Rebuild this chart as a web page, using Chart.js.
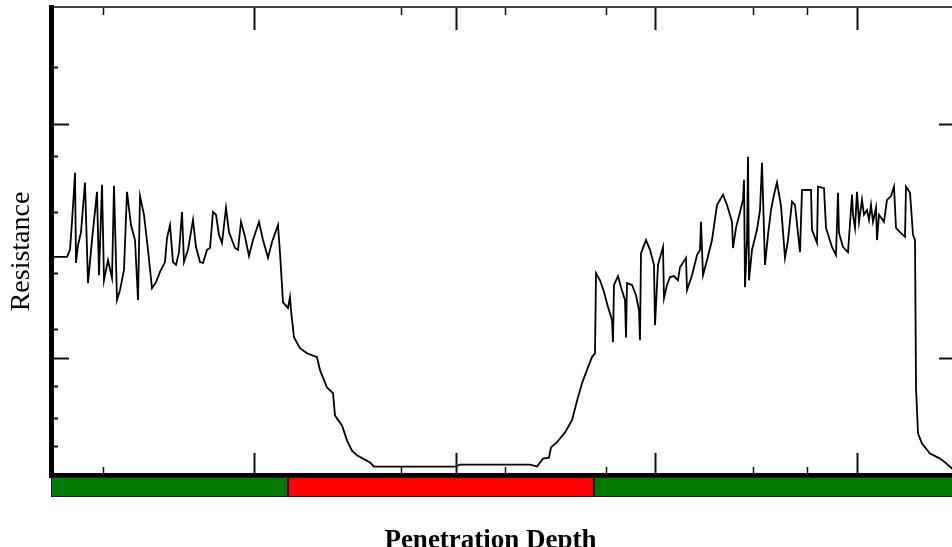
<!DOCTYPE html>
<html>
<head>
<meta charset="utf-8">
<title>Resistance vs Penetration Depth</title>
<script src="https://cdn.jsdelivr.net/npm/chart.js@4.4.0/dist/chart.umd.min.js"></script>
<style>
    html, body { margin: 0; padding: 0; background: #fff; overflow: hidden; }
    canvas { display: block; }
</style>
</head>
<body>
<canvas id="penetrationChart" width="960" height="557"></canvas>
<script>

//---------------------------------
//Start data
const depth = [
    2, 16, 19, 21, 23, 24, 25, 27, 30, 34, 37, 41, 46, 48, 51, 53, 57, 61, 63, 66,
    69, 73, 76, 80, 84, 87, 89, 93, 97, 101, 105, 109, 114, 116, 119, 122, 125, 128, 131, 133,
    137, 142, 145, 149, 152, 156, 159, 162, 165, 168, 171, 175, 178, 184, 187, 190, 194, 198, 202, 208,
    212, 217, 221, 227, 229, 232, 237, 239, 240, 243, 249, 256, 266, 269, 276, 282, 284, 291, 296, 301,
    306, 312, 319, 323, 404, 409, 479, 486, 492, 498, 500, 506, 514, 521, 527, 531, 537, 541, 544, 545,
    549, 553, 557, 561, 562, 563, 567, 570, 574, 575, 576, 581, 585, 588, 589, 590, 595, 599, 603, 604,
    607, 612, 613, 616, 619, 623, 627, 629, 635, 636, 641, 646, 649, 650, 652, 656, 661, 666, 672, 676,
    681, 682, 685, 689, 692, 693, 694, 696, 697, 698, 701, 706, 709, 711, 714, 717, 720, 723, 726, 730,
    734, 737, 741, 744, 749, 751, 760, 761, 766, 767, 773, 775, 781, 785, 787, 788, 792, 797, 801, 802,
    804, 806, 808, 811, 813, 816, 818, 820, 822, 825, 826, 828, 833, 836, 840, 843, 845, 849, 854, 855,
    859, 862, 864, 865, 867, 871, 879, 889, 894, 901, 906
];
const resistance = [
    46.6, 46.6, 48.1, 54.1, 60.9, 64.6, 45.3, 49.1, 51.9, 62.5, 41.0, 50.2, 60.5, 42.7, 62.0, 41.6, 45.9, 42.1, 61.8, 37.4,
    39.5, 43.8, 60.5, 53.4, 50.2, 37.4, 59.6, 55.6, 48.1, 39.9, 41.2, 43.4, 45.5, 50.6, 53.4, 45.5, 44.9, 47.6, 56.2, 45.5,
    48.1, 54.5, 48.7, 45.5, 45.3, 48.1, 48.5, 56.2, 55.6, 51.3, 49.6, 57.1, 51.9, 48.5, 48.1, 54.1, 50.9, 46.8, 50.2, 54.1,
    50.2, 46.4, 49.8, 53.4, 47.4, 36.9, 35.7, 38.0, 35.2, 29.4, 27.1, 26.0, 25.2, 22.4, 18.7, 17.5, 12.7, 10.6, 7.4, 5.2,
    4.2, 3.5, 2.7, 1.8, 1.8, 2.2, 2.2, 1.8, 3.5, 3.7, 5.9, 7.0, 9.1, 11.7, 16.6, 19.6, 23.0, 25.2, 26.0, 43.1,
    41.6, 39.1, 35.9, 33.1, 28.4, 40.6, 42.5, 40.1, 37.4, 29.4, 41.0, 40.6, 38.4, 35.2, 28.8, 47.4, 50.2, 48.1, 44.9, 32.0,
    44.9, 48.7, 37.8, 40.6, 42.3, 42.5, 41.6, 44.4, 46.4, 39.5, 42.7, 47.0, 48.1, 54.1, 42.7, 45.9, 50.2, 57.7, 59.9, 57.7,
    54.1, 48.5, 52.8, 56.2, 58.8, 63.1, 40.1, 50.2, 68.0, 41.6, 48.1, 52.4, 56.6, 66.7, 44.9, 51.3, 56.6, 59.9, 62.5, 57.5,
    46.4, 50.2, 58.4, 57.7, 47.6, 60.9, 60.9, 52.4, 49.6, 61.6, 61.3, 52.8, 48.7, 47.0, 60.3, 51.7, 48.7, 47.6, 59.9, 55.6,
    52.8, 60.5, 54.1, 58.8, 55.6, 56.6, 54.5, 57.7, 54.1, 57.1, 50.2, 55.6, 54.1, 58.8, 59.6, 61.6, 52.8, 51.9, 50.9, 61.6,
    60.3, 51.3, 50.2, 18.7, 8.9, 6.7, 4.6, 3.5, 2.7, 1.4, 0.5
];

const depthMax = 906;
const depthMajorTicks = [203, 405, 604, 806];
const depthMinorTicks = [52, 350, 454, 555, 702, 756];
const resistanceMajorTicks = [25, 75];
const resistanceMinorTicks = [6, 12, 19, 31, 43, 56, 68, 87];

//soil layers shown in the strip under the axis
const layerBounds = [0, 237, 543, 906];
const layerColors = ['#007b00', '#ff0000', '#007b00'];
//End data
//---------------------------------


const points = depth.map((d, i) => ({ x: d, y: resistance[i] }));

//titles sit a little off the axis centre in the original, nudged with trailing nbsp
const NBSP = '\u00a0';

function tickList(values) {
    return function (scale) {
        scale.ticks = values.map((v) => ({ value: v }));
    };
}

function tickAxis(position, values, length, width, min, max, size, weight, border) {
    return {
        type: 'linear',
        position: position,
        min: min,
        max: max,
        weight: weight,
        ticks: { display: false },
        afterBuildTicks: tickList(values),
        afterFit: function (scale) {
            if (position === 'left' || position === 'right') {
                scale.width = size;
            } else {
                scale.height = size;
            }
        },
        grid: {
            drawOnChartArea: false,
            drawTicks: true,
            tickLength: length,
            tickWidth: width,
            tickColor: '#111',
            lineWidth: 1
        },
        border: border || { display: false }
    };
}

//---------------------------------
//Start layer strip plugin
const layerStrip = {
    id: 'layerStrip',
    afterDraw(chart) {
        const ctx = chart.ctx;
        const xScale = chart.scales.x;
        const top = Math.round(chart.chartArea.bottom + 2);
        const h = 20;
        ctx.save();
        for (let i = 0; i < layerColors.length; i++) {
            const x1 = Math.round(xScale.getPixelForValue(layerBounds[i]));
            const x2 = Math.round(xScale.getPixelForValue(layerBounds[i + 1]));
            ctx.fillStyle = layerColors[i];
            ctx.fillRect(x1, top, x2 - x1, h);
            ctx.strokeStyle = '#1a1a1a';
            ctx.lineWidth = 1;
            ctx.strokeRect(x1 + 0.5, top + 0.5, x2 - x1 - 1, h - 1);
        }
        ctx.restore();
    }
};
//End layer strip plugin
//---------------------------------


const xMain = tickAxis('bottom', depthMajorTicks, -22, 2, 0, depthMax, 82, 1,
    { display: true, color: '#000', width: 5 });
xMain.title = {
    display: true,
    text: 'Penetration Depth' + NBSP.repeat(4),
    color: '#000',
    font: { family: 'Liberation Serif', size: 27, weight: 'bold', lineHeight: 1 },
    padding: { top: 0, bottom: 2 }
};

const yMain = tickAxis('left', resistanceMajorTicks, -18, 2, 0, 100, 51, 1,
    { display: true, color: '#000', width: 5 });
yMain.title = {
    display: true,
    text: 'Resistance' + NBSP.repeat(3),
    color: '#000',
    font: { family: 'Liberation Serif', size: 28, weight: 'normal', lineHeight: 1 },
    padding: { top: 8, bottom: 0 }
};

const ctx = document.getElementById('penetrationChart');

new Chart(ctx, {
    type: 'line',
    data: {
        datasets: [{
            label: 'Resistance',
            data: points,
            borderColor: '#000',
            borderWidth: 1.8,
            pointRadius: 0,
            tension: 0,
            fill: false
        }]
    },
    options: {
        responsive: false,
        animation: false,
        devicePixelRatio: 1,
        layout: { padding: 0 },
        plugins: {
            legend: { display: false },
            tooltip: { enabled: false }
        },
        scales: {
            x: xMain,
            xMinor: tickAxis('bottom', depthMinorTicks, -8, 1.5, 0, depthMax, 0, 0),
            xTop: tickAxis('top', depthMajorTicks, -23, 2, 0, depthMax, 7, 1,
                { display: true, color: '#444', width: 2 }),
            xTopMinor: tickAxis('top', depthMinorTicks, -8, 1.5, 0, depthMax, 0, 0),
            y: yMain,
            yMinor: tickAxis('left', resistanceMinorTicks, -7, 2, 0, 100, 0, 0),
            yRight: tickAxis('right', resistanceMajorTicks, -18, 2, 0, 100, 3, 1,
                { display: true, color: '#000', width: 5 })
        }
    },
    plugins: [layerStrip]
});

</script>
</body>
</html>
